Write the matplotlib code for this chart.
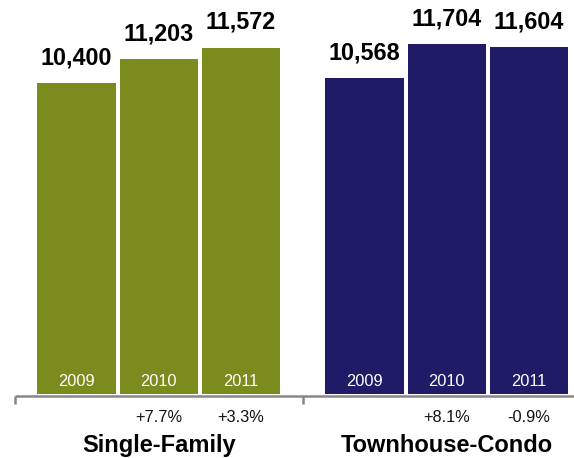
import matplotlib
matplotlib.use("Agg")
import matplotlib.pyplot as plt
from matplotlib.transforms import blended_transform_factory, ScaledTranslation

plt.rcParams['font.family'] = ['Liberation Sans', 'DejaVu Sans']

groups = ["Single-Family", "Townhouse-Condo"]
years = ["2009", "2010", "2011"]
single_family = [10400, 11203, 11572]
townhouse = [10568, 11704, 11604]
sf_change = ["", "+7.7%", "+3.3%"]
th_change = ["", "+8.1%", "-0.9%"]
colors = ["#7b8b1e", "#201b66"]

DPI = 100
fig = plt.figure(figsize=(5.74, 4.58), dpi=DPI)
ax = fig.add_axes([0, 64 / 458, 1, 394 / 458])
ax.set_xlim(-0.93, 6.047)
ax.set_ylim(0, 13177)
ax.axis('off')

offsets = [0, 3.5]
series = [single_family, townhouse]
changes = [sf_change, th_change]

def px(p):
    return p * 72 / DPI

for g, (off, vals, chg, col) in enumerate(zip(offsets, series, changes, colors)):
    xs = [off + i for i in range(len(vals))]
    ax.bar(xs, vals, width=0.95, color=col, edgecolor='none')
    for x, v, y, c in zip(xs, vals, years, chg):
        ax.annotate(f"{v:,}", (x, v), xytext=(0, px(19)), textcoords='offset points',
                    ha='center', va='baseline', fontsize=16.8, fontweight='bold',
                    color='black')
        ax.annotate(y, (x, 0), xytext=(0, px(8.5)), textcoords='offset points',
                    ha='center', va='baseline', fontsize=11.8, color='white')
        if c:
            ax.annotate(c, (x, 0), xytext=(0, -px(28)), textcoords='offset points',
                        ha='center', va='baseline', fontsize=11.8, color='#111111',
                        annotation_clip=False)
    ax.annotate(groups[g], (off + 1, 0), xytext=(0, -px(58)), textcoords='offset points',
                ha='center', va='baseline', fontsize=17, fontweight='bold',
                color='black', annotation_clip=False)

# axis line and group ticks
trans = blended_transform_factory(ax.transData, ax.transAxes) + \
    ScaledTranslation(0, -2 / DPI, fig.dpi_scale_trans)
ax.plot([-0.75, 6.047], [0, 0], color='#888888', lw=1.8, transform=trans,
        clip_on=False, solid_capstyle='butt')
for tx in [-0.75, 2.75]:
    ax.plot([tx, tx], [0, -8 / 394], color='#888888', lw=1.8, transform=trans,
            clip_on=False, solid_capstyle='butt')

fig.savefig("out.png", dpi=DPI)
